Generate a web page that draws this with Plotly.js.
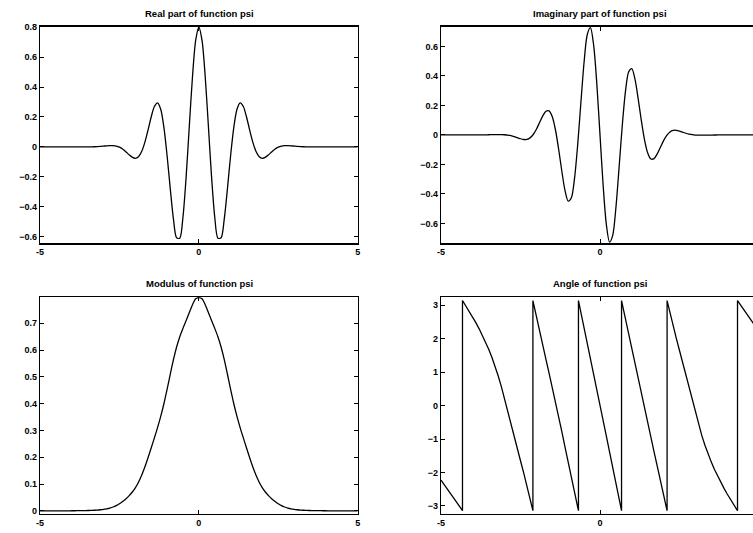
<!DOCTYPE html>
<html>
<head>
<meta charset="utf-8">
<script src="https://cdn.plot.ly/plotly-3.0.1.min.js"></script>
<style>
  html, body { margin: 0; padding: 0; background: #fff; overflow: hidden; }
  #plot { width: 765px; height: 533px; }
</style>
</head>
<body>
<div id="plot"></div>
<script>
// Sample positions (x from -5 to 5)
const xGrid = [-5,-4.9,-4.8,-4.7,-4.6,-4.5,-4.4,-4.3,-4.2,-4.1,-4,-3.9,-3.8,-3.7,-3.6,-3.5,-3.4,-3.3,-3.2,-3.1,-3,-2.9,-2.8,-2.7,-2.6,-2.5,-2.4,-2.3,-2.2,-2.1,-2,-1.9,-1.8,-1.7,-1.6,-1.5,-1.4,-1.3,-1.2,-1.1,-1,-0.9,-0.8,-0.7,-0.6,-0.5,-0.4,-0.3,-0.2,-0.1,0,0.1,0.2,0.3,0.4,0.5,0.6,0.7,0.8,0.9,1,1.1,1.2,1.3,1.4,1.5,1.6,1.7,1.8,1.9,2,2.1,2.2,2.3,2.4,2.5,2.6,2.7,2.8,2.9,3,3.1,3.2,3.3,3.4,3.5,3.6,3.7,3.8,3.9,4,4.1,4.2,4.3,4.4,4.5,4.6,4.7,4.8,4.9,5];

// Real part of psi
const realPsi = [0,0,0,0,0,0,0,0,0,0,0,
-0.0001,-0.0002,-0.0003,-0.0002,-0.0001,0.0002,0.0008,0.0018,0.0032,0.0052,0.0072,0.0086,0.0085,0.0054,-0.0020,-0.0147,-0.0321,-0.0519,-0.0691,-0.0766,-0.0662,-0.0313,0.0301,0.1123,0.2000,0.2699,0.2948,0.2517,0.1306,-0.0576,-0.2792,-0.4822,-0.6084,-0.6106,-0.4688,-0.2006,0.1391,0.4710,0.7120,
0.8000,
0.7120,0.4710,0.1391,-0.2006,-0.4688,-0.6106,-0.6084,-0.4822,-0.2792,-0.0576,0.1306,0.2517,0.2948,0.2699,0.2000,0.1123,0.0301,-0.0313,-0.0662,-0.0766,-0.0691,-0.0519,-0.0321,-0.0147,-0.0020,0.0054,0.0085,0.0086,0.0072,0.0052,0.0032,0.0018,0.0008,0.0002,-0.0001,-0.0002,-0.0003,-0.0002,-0.0001,
0,0,0,0,0,0,0,0,0,0,0];

// Imaginary part of psi
const imagPsi = [0,0,0,0,0,0,0,0,0,0,0,
0.0001,0.0002,0.0004,0.0007,0.0010,0.0014,0.0018,0.0021,0.0020,0.0011,-0.0012,-0.0053,-0.0112,-0.0186,-0.0261,-0.0312,-0.0305,-0.0202,0.0027,0.0386,0.0836,0.1288,0.1606,0.1631,0.1225,0.0332,-0.0974,-0.2464,-0.3776,-0.4493,-0.4264,-0.2930,-0.0623,0.2221,0.4939,0.6811,0.7269,0.6084,0.3461,
0,
-0.3461,-0.6084,-0.7269,-0.6811,-0.4939,-0.2221,0.0623,0.2930,0.4264,0.4493,0.3776,0.2464,0.0974,-0.0332,-0.1225,-0.1631,-0.1606,-0.1288,-0.0836,-0.0386,-0.0027,0.0202,0.0305,0.0312,0.0261,0.0186,0.0112,0.0053,0.0012,-0.0011,-0.0020,-0.0021,-0.0018,-0.0014,-0.0010,-0.0007,-0.0004,-0.0002,-0.0001,
0,0,0,0,0,0,0,0,0,0,0];

// Modulus of psi
const modPsi = [0,0,0,0,0,0,0,0,0,0,0.0001,
0.0002,0.0003,0.0005,0.0007,0.0010,0.0014,0.0020,0.0028,0.0039,0.0053,0.0073,0.0101,0.0141,0.0194,0.0262,0.0345,0.0443,0.0557,0.0692,0.0858,0.1066,0.1326,0.1634,0.1980,0.2346,0.2720,0.3105,0.3522,0.3996,0.4530,0.5097,0.5642,0.6116,0.6498,0.6810,0.7100,0.7401,0.7694,0.7917,
0.7960,
0.7917,0.7694,0.7401,0.7100,0.6810,0.6498,0.6116,0.5642,0.5097,0.4530,0.3996,0.3522,0.3105,0.2720,0.2346,0.1980,0.1634,0.1326,0.1066,0.0858,0.0692,0.0557,0.0443,0.0345,0.0262,0.0194,0.0141,0.0101,0.0073,0.0053,0.0039,0.0028,0.0020,0.0014,0.0010,0.0007,0.0005,0.0003,0.0002,
0.0001,0,0,0,0,0,0,0,0,0,0];

// Angle of psi (with the wrap points at +/- pi)
const angleX = [-5,-4.9,-4.8,-4.7,-4.6,-4.5,-4.4,-4.3242,-4.3242,-4.3,-4.2,-4.1,-4,-3.9,-3.8,-3.7,-3.6,-3.5,-3.4,-3.3,-3.2,-3.1,-3,-2.9,-2.8,-2.7,-2.6,-2.5,-2.4,-2.3,-2.2,-2.1096,-2.1096,-2.1,-2,-1.9,-1.8,-1.7,-1.6,-1.5,-1.4,-1.3,-1.2,-1.1,-1,-0.9,-0.8,-0.7,-0.6774,-0.6774,-0.6,-0.5,-0.4,-0.3,-0.2,-0.1,0,0.1,0.2,0.3,0.4,0.5,0.6,0.6774,0.6774,0.7,0.8,0.9,1,1.1,1.2,1.3,1.4,1.5,1.6,1.7,1.8,1.9,2,2.1,2.1096,2.1096,2.2,2.3,2.4,2.5,2.6,2.7,2.8,2.9,3,3.1,3.2,3.3,3.4,3.5,3.6,3.7,3.8,3.9,4,4.1,4.2,4.3,4.3242,4.3242,4.4,4.5,4.6,4.7,4.8,4.9,5];
const angleY = [-2.2298,-2.3576,-2.4874,-2.6193,-2.7539,-2.8913,-3.0321,-3.1416,3.1416,3.1066,2.9575,2.8032,2.6427,2.4747,2.2975,2.1093,1.9074,1.6884,1.4484,1.1829,0.8878,0.5612,0.2071,-0.1674,-0.5515,-0.9216,-1.2876,-1.6480,-2.0100,-2.3820,-2.7713,-3.1416,3.1416,3.1022,2.6754,2.2410,1.8092,1.3854,0.9677,0.5495,0.1223,-0.3192,-0.7749,-1.2378,-1.6983,-2.1505,-2.5955,-3.0395,-3.1416,3.1416,2.7927,2.3301,1.8573,1.3817,0.9121,0.4525,0,-0.4525,-0.9121,-1.3817,-1.8573,-2.3301,-2.7927,-3.1416,3.1416,3.0395,2.5955,2.1505,1.6983,1.2378,0.7749,0.3192,-0.1223,-0.5495,-0.9677,-1.3854,-1.8092,-2.2410,-2.6754,-3.1022,-3.1416,3.1416,2.7713,2.3820,2.0100,1.6480,1.2876,0.9216,0.5515,0.1674,-0.2071,-0.5612,-0.8878,-1.1829,-1.4484,-1.6884,-1.9074,-2.1093,-2.2975,-2.4747,-2.6427,-2.8032,-2.9575,-3.1066,-3.1416,3.1416,3.0321,2.8913,2.7539,2.6193,2.4874,2.3576,2.2298];

const titles = ['Real part of function psi', 'Imaginary part of function psi', 'Modulus of function psi', 'Angle of function psi'];
const xTicksLeft = [-5, 0, 5];
const xTicksRight = [-5, 0];

const lineStyle = {color: '#000', width: 1.3};
const smooth = {color: '#000', width: 1.3, shape: 'spline', smoothing: 0.8};

const traces = [
  {x: xGrid, y: realPsi, xaxis: 'x', yaxis: 'y', mode: 'lines', line: smooth, hoverinfo: 'skip'},
  {x: xGrid, y: imagPsi, xaxis: 'x2', yaxis: 'y2', mode: 'lines', line: smooth, hoverinfo: 'skip'},
  {x: xGrid, y: modPsi, xaxis: 'x3', yaxis: 'y3', mode: 'lines', line: smooth, hoverinfo: 'skip'},
  {x: angleX, y: angleY, xaxis: 'x4', yaxis: 'y4', mode: 'lines', line: lineStyle, hoverinfo: 'skip'}
];

const tickFont = {family: 'Liberation Sans, Arial, sans-serif', size: 9, color: '#000', weight: 'bold'};
function xAx(domain, anchor, ticks) {
  return {domain: domain, anchor: anchor, range: [-5, 5], tickvals: ticks, ticktext: ticks.map(String),
    ticks: 'inside', ticklen: 4, tickwidth: 1, tickcolor: '#000', showline: true, linecolor: '#000', linewidth: 1.2,
    mirror: 'ticks', showgrid: false, zeroline: false, tickfont: tickFont, fixedrange: true};
}
function yAx(domain, anchor, range, dtick) {
  return {domain: domain, anchor: anchor, range: range, dtick: dtick, tick0: 0,
    ticks: 'inside', ticklen: 4, tickwidth: 1, tickcolor: '#000', showline: true, linecolor: '#000', linewidth: 1.2,
    mirror: 'ticks', showgrid: false, zeroline: false, tickfont: tickFont, fixedrange: true};
}

const W = 765, H = 533;
const dxL = [40 / W, 357.7 / W], dxR = [441 / W, 759 / W];
const dyT = [(H - 243.3) / H, (H - 26.5) / H], dyB = [(H - 514) / H, (H - 297.3) / H];

const titleFont = {family: 'Liberation Sans, Arial, sans-serif', size: 9.5, color: '#000', weight: 'bold'};
const annotations = [
  {text: titles[0], x: 199 / W, y: 1 - 13 / H},
  {text: titles[1], x: 600 / W, y: 1 - 13 / H},
  {text: titles[2], x: 199 / W, y: 1 - 283.5 / H},
  {text: titles[3], x: 600 / W, y: 1 - 283.5 / H}
].map(a => Object.assign(a, {xref: 'paper', yref: 'paper', showarrow: false, xanchor: 'center', yanchor: 'middle', font: titleFont}));

const layout = {
  width: W, height: H,
  margin: {l: 0, r: 0, t: 0, b: 0},
  paper_bgcolor: '#fff', plot_bgcolor: '#fff',
  showlegend: false,
  xaxis: xAx(dxL, 'y', xTicksLeft),
  yaxis: yAx(dyT, 'x', [-0.645, 0.805], 0.2),
  xaxis2: xAx(dxR, 'y2', xTicksRight),
  yaxis2: yAx(dyT, 'x2', [-0.735, 0.735], 0.2),
  xaxis3: xAx(dxL, 'y3', xTicksLeft),
  yaxis3: yAx(dyB, 'x3', [-0.012, 0.797], 0.1),
  xaxis4: xAx(dxR, 'y4', xTicksRight),
  yaxis4: yAx(dyB, 'x4', [-3.24, 3.24], 1),
  annotations: annotations
};

Plotly.newPlot('plot', traces, layout, {staticPlot: true, displayModeBar: false});
</script>
</body>
</html>
